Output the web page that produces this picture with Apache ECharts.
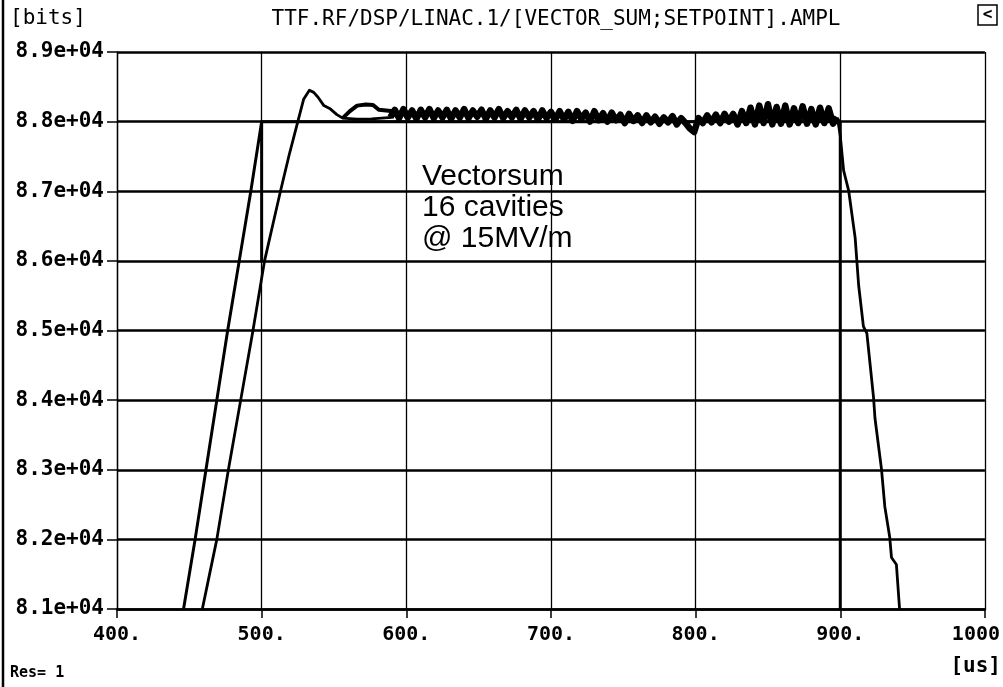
<!DOCTYPE html>
<html><head><meta charset="utf-8">
<script src="https://cdn.jsdelivr.net/npm/echarts@6/dist/echarts.min.js"></script>
<style>html,body{margin:0;padding:0;background:#fff}#c{width:1003px;height:687px}</style>
</head><body><div id="c"></div>
<script>
// ---- text ----
const titleText = 'TTF.RF/DSP/LINAC.1/[VECTOR_SUM;SETPOINT].AMPL';
const yUnitText = '[bits]';
const xUnitText = '[us]';
const resText = 'Res= 1';
const noteLines = ['Vectorsum', '16 cavities', '@ 15MV/m'];

// ---- tick labels ----
const xTickValues = [400, 500, 600, 700, 800, 900, 1000];
const xTickLabels = ['400.', '500.', '600.', '700.', '800.', '900.', '1000'];
const yTickValues = [81000, 82000, 83000, 84000, 85000, 86000, 87000, 88000, 89000];
const yTickLabels = ['8.1e+04', '8.2e+04', '8.3e+04', '8.4e+04', '8.5e+04', '8.6e+04', '8.7e+04', '8.8e+04', '8.9e+04'];

// ---- setpoint (us, bits) ----
const setTime  = [446, 454, 461.5, 469, 476.5, 484.5, 492.5, 500, 500, 500, 900, 900];
const setValue = [81000, 82000, 83000, 84000, 85000, 86000, 87000, 88000, 86000, 88000, 88000, 80900];

// ---- vector sum: rise, overshoot, lower branch ----
const vsRiseTime  = [459, 463, 469, 477, 485.5, 494, 502, 507.5, 513, 519, 525, 529, 533, 536, 539, 543, 547, 552, 556, 566, 576, 590];
const vsRiseValue = [81000, 81400, 82000, 83000, 84000, 85000, 86000, 86500, 87000, 87520, 88000, 88320, 88450, 88420, 88350, 88230, 88190, 88100, 88050, 88035, 88040, 88060];

// ---- vector sum: upper arc after the overshoot ----
const vsArcTime  = [556, 561, 566, 572, 577, 581, 586, 591];
const vsArcValue = [88050, 88150, 88230, 88245, 88240, 88170, 88160, 88150];

// ---- vector sum: flat top (noisy band) ----
const vsFlatTime = [589, 592, 595, 598, 601, 604, 607, 610, 613, 616,
  619, 622, 625, 628, 631, 634, 637, 640, 643, 646,
  649, 652, 655, 658, 661, 664, 667, 670, 673, 676,
  679, 682, 685, 688, 691, 694, 697, 700, 703, 706,
  709, 712, 715, 718, 721, 724, 727, 730, 733, 736,
  739, 742, 745, 748, 751, 754, 757, 760, 763, 766,
  769, 772, 775, 778, 781, 784, 787, 790, 793, 796,
  799, 802, 805, 808, 811, 814, 817, 820, 823, 826,
  829, 832, 835, 838, 841, 844, 847, 850, 853, 856,
  859, 862, 865, 868, 871, 874, 877, 880, 883, 886,
  889, 892, 895, 898];
const vsFlatValue = [88060, 88170, 88050, 88180, 88060, 88160, 88040, 88170, 88060, 88180,
  88050, 88160, 88060, 88170, 88040, 88160, 88060, 88180, 88050, 88160,
  88070, 88170, 88040, 88160, 88060, 88180, 88050, 88150, 88060, 88170,
  88040, 88160, 88060, 88150, 88030, 88160, 88050, 88140, 88030, 88150,
  88030, 88140, 88010, 88150, 88040, 88130, 88000, 88150, 88020, 88120,
  88000, 88130, 88020, 88100, 87980, 88110, 88010, 88090, 87980, 88090,
  87990, 88070, 87970, 88060, 87990, 88080, 87960, 88050, 87980, 87900,
  87850, 88050, 87980, 88090, 87990, 88100, 87980, 88110, 88000, 88110,
  87960, 88150, 87980, 88200, 87960, 88230, 87980, 88250, 87960, 88210,
  87970, 88230, 87960, 88190, 87980, 88220, 87970, 88180, 87960, 88200,
  87980, 88190, 87970, 88060];

// ---- vector sum: fall ----
const vsFallTime  = [898, 900, 902.3, 905.8, 910.3, 912.7, 916, 918.4, 923, 924, 928.5, 930.8, 934.2, 935.4, 938.8, 941];
const vsFallValue = [88060, 87800, 87300, 87010, 86330, 85650, 85060, 84960, 84040, 83740, 83010, 82470, 82030, 81740, 81640, 81000];

function pairs(t, v) { return t.map((x, i) => [x, v[i]]); }

const MONO = "'DejaVu Sans Mono', 'Liberation Mono', monospace";

function lineSeries(name, data, width, z) {
  return {name: name, type: 'line', data: data, showSymbol: false, symbol: 'none',
          lineStyle: {color: '#000', width: width, cap: 'butt', join: 'round'}, clip: true, z: z};
}

const chart = echarts.init(document.getElementById('c'), null, {renderer: 'canvas'});
chart.setOption({
  animation: false,
  backgroundColor: '#fff',
  grid: {left: 117, right: 17, top: 52, bottom: 78, containLabel: false},
  xAxis: {
    type: 'value', min: 400, max: 1000, interval: 100,
    axisLine: {show: true, lineStyle: {color: '#000', width: 2.5}},
    axisTick: {show: true, length: 9, lineStyle: {color: '#000', width: 1.5}},
    splitLine: {show: true, lineStyle: {color: '#000', width: 1.3}},
    axisLabel: {
      show: true, showMinLabel: true, showMaxLabel: true, margin: 16,
      color: '#000', fontFamily: MONO, fontWeight: 'bold', fontSize: 20,
      formatter: function (v) {
        const i = xTickValues.indexOf(v);
        const s = i >= 0 ? xTickLabels[i] : '';
        return i === xTickValues.length - 1 ? '{r|' + s + '}' : s;
      },
      rich: {r: {fontFamily: MONO, fontWeight: 'bold', fontSize: 20, color: '#000', padding: [0, 18, 0, 0]}}
    }
  },
  yAxis: {
    type: 'value', min: 81000, max: 89000, interval: 1000,
    axisLine: {show: true, lineStyle: {color: '#000', width: 1.3}},
    axisTick: {show: true, length: 10, lineStyle: {color: '#000', width: 1.5}},
    splitLine: {show: true, lineStyle: {color: '#000', width: 2.5}},
    axisLabel: {
      show: true, showMinLabel: true, showMaxLabel: true, margin: 13,
      color: '#000', fontFamily: MONO, fontWeight: 'bold', fontSize: 21,
      formatter: function (v) {
        const i = yTickValues.indexOf(v);
        return i >= 0 ? yTickLabels[i] : '';
      }
    }
  },
  series: [
    lineSeries('SETPOINT', pairs(setTime, setValue), 3, 3),
    lineSeries('VECTOR_SUM', pairs(vsRiseTime, vsRiseValue), 2.8, 4),
    lineSeries('VECTOR_SUM', pairs(vsArcTime, vsArcValue), 4, 4),
    lineSeries('VECTOR_SUM', pairs(vsFlatTime, vsFlatValue), 6.5, 4),
    lineSeries('VECTOR_SUM', pairs(vsFallTime, vsFallValue), 2.8, 4)
  ],
  graphic: [
    {type: 'line', shape: {x1: 3, y1: 0, x2: 3, y2: 687}, style: {stroke: '#000', lineWidth: 2.5}},
    {type: 'text', x: 556, y: 20, style: {text: titleText, font: "21px 'DejaVu Sans Mono'", fill: '#000', textAlign: 'center', textVerticalAlign: 'middle'}},
    {type: 'text', x: 10, y: 19, style: {text: yUnitText, font: "21px 'DejaVu Sans Mono'", fill: '#000', textAlign: 'left', textVerticalAlign: 'middle'}},
    {type: 'text', x: 1001, y: 667, style: {text: xUnitText, font: "bold 21px 'DejaVu Sans Mono'", fill: '#000', textAlign: 'right', textVerticalAlign: 'middle'}},
    {type: 'text', x: 10, y: 673, style: {text: resText, font: "bold 15px 'DejaVu Sans Mono'", fill: '#000', textAlign: 'left', textVerticalAlign: 'middle'}},
    {type: 'rect', shape: {x: 978, y: 5, width: 19, height: 20}, style: {fill: 'none', stroke: '#000', lineWidth: 1.5}},
    {type: 'text', x: 987.5, y: 15, style: {text: '<', font: "bold 16px 'DejaVu Sans Mono'", fill: '#000', textAlign: 'center', textVerticalAlign: 'middle'}},
    {type: 'text', x: 422, y: 161, style: {text: noteLines.join('\n'), font: "30px 'Liberation Sans', Arial, sans-serif", lineHeight: 31, fill: '#000', textAlign: 'left', textVerticalAlign: 'top'}}
  ]
});
</script>
</body></html>
